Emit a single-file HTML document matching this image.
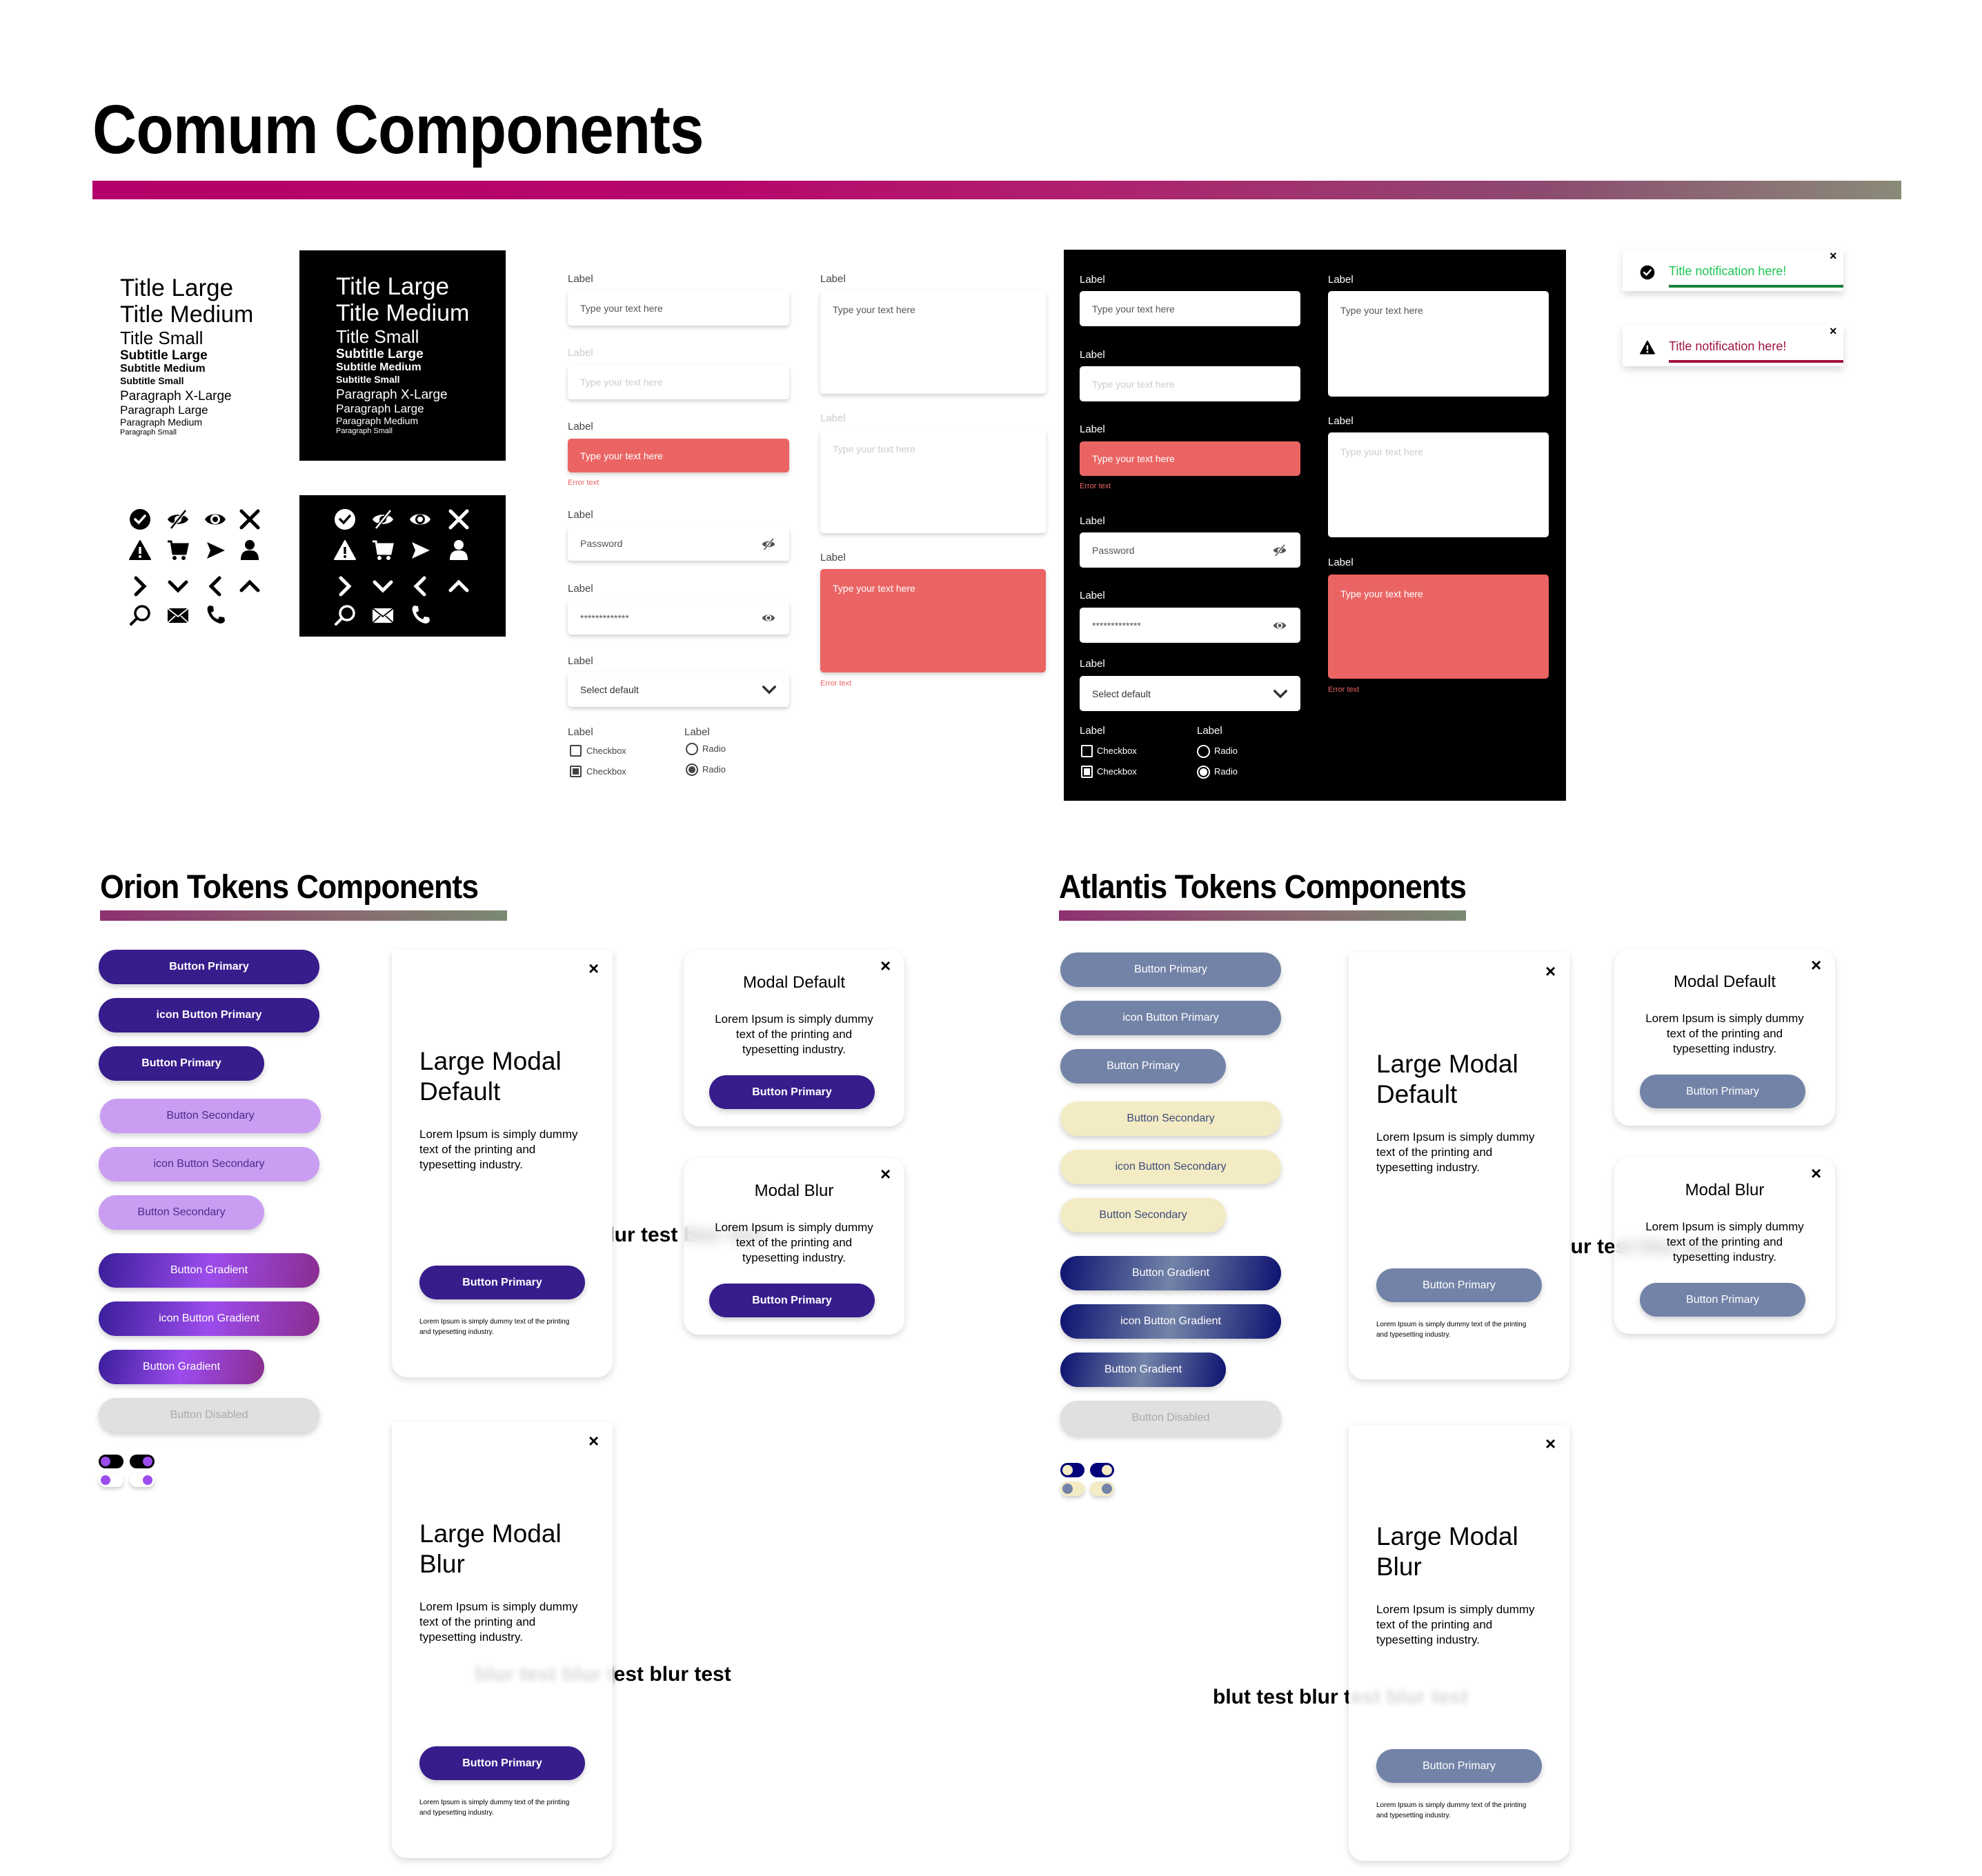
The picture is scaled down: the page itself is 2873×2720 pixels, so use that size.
<!DOCTYPE html>
<html><head><meta charset="utf-8">
<style>
*{margin:0;padding:0;box-sizing:border-box}
body{width:2873px;height:2720px;background:#fff;position:relative;overflow:hidden;font-family:"Liberation Sans",sans-serif;color:#000}
.a{position:absolute}
.t{position:absolute;white-space:nowrap;line-height:1}
.inp{position:absolute;background:#fff;border-radius:5px;box-shadow:0 3px 6px rgba(0,0,0,.18);font-size:14px;color:#555;padding-left:18px;display:flex;align-items:center}
.ta{align-items:flex-start;padding-top:20px}
.red{background:#eb6464;color:#fff}
.dis{color:#ccc}
.lab{position:absolute;font-size:15px;color:#444;white-space:nowrap}
.err{position:absolute;font-size:11px;color:#eb6464}
.btn{position:absolute;height:50px;border-radius:25px;display:flex;align-items:center;justify-content:center;font-size:16px;font-weight:bold;color:#fff;box-shadow:0 4px 8px rgba(0,0,0,.18)}
.modal{position:absolute;background:#fff;border-radius:22px;box-shadow:0 4px 10px rgba(0,0,0,.15)}
.x{position:absolute;font-size:26px;font-weight:bold;line-height:1}
svg.i{position:absolute;width:32px;height:32px}
</style></head><body>
<svg width="0" height="0" style="position:absolute">
<defs>
<symbol id="chk" viewBox="0 0 32 32"><circle cx="16" cy="16" r="15" fill="currentColor"/><path d="M9 16l5 5 9-10" stroke="var(--bg,#fff)" stroke-width="3.5" fill="none" stroke-linecap="round"/></symbol>
<symbol id="eyes" viewBox="0 0 32 32"><path d="M1 16C6 7 26 7 31 16 26 25 6 25 1 16z" fill="currentColor"/><circle cx="16" cy="16" r="5" fill="var(--bg,#fff)"/><path d="M6 29L27 3" stroke="var(--bg,#fff)" stroke-width="5"/><path d="M6 29L27 3" stroke="currentColor" stroke-width="2.5"/></symbol>
<symbol id="eye" viewBox="0 0 32 32"><path d="M1 16C6 6 26 6 31 16 26 26 6 26 1 16z" fill="currentColor"/><circle cx="16" cy="16" r="7" fill="var(--bg,#fff)"/><circle cx="16" cy="16" r="4" fill="currentColor"/></symbol>
<symbol id="xx" viewBox="0 0 32 32"><path d="M4 4L28 28M28 4L4 28" stroke="currentColor" stroke-width="5" stroke-linecap="round"/></symbol>
<symbol id="warn" viewBox="0 0 32 32"><path d="M16 2L31 29H1z" fill="currentColor" stroke="currentColor" stroke-width="2" stroke-linejoin="round"/><rect x="14.3" y="11" width="3.4" height="10" fill="var(--bg,#fff)"/><circle cx="16" cy="25" r="2" fill="var(--bg,#fff)"/></symbol>
<symbol id="cart" viewBox="0 0 32 32"><path d="M1 3h5l3 18h18l3-14H8" fill="none" stroke="currentColor" stroke-width="3"/><path d="M8 7h22l-3 14H10z" fill="currentColor"/><circle cx="11" cy="27" r="3" fill="currentColor"/><circle cx="24" cy="27" r="3" fill="currentColor"/></symbol>
<symbol id="send" viewBox="0 0 32 32"><path d="M4 4L30 16 4 28 9 16z" fill="currentColor"/></symbol>
<symbol id="user" viewBox="0 0 32 32"><circle cx="16" cy="8" r="7" fill="currentColor"/><path d="M3 30c0-10 4-14 13-14s13 4 13 14z" fill="currentColor"/></symbol>
<symbol id="cr" viewBox="0 0 32 32"><path d="M10 4l12 12-12 12" stroke="currentColor" stroke-width="5" fill="none" stroke-linecap="round"/></symbol>
<symbol id="cd" viewBox="0 0 32 32"><path d="M4 10l12 12 12-12" stroke="currentColor" stroke-width="5" fill="none" stroke-linecap="round"/></symbol>
<symbol id="cl" viewBox="0 0 32 32"><path d="M22 4L10 16l12 12" stroke="currentColor" stroke-width="5" fill="none" stroke-linecap="round"/></symbol>
<symbol id="cu" viewBox="0 0 32 32"><path d="M4 22L16 10l12 12" stroke="currentColor" stroke-width="5" fill="none" stroke-linecap="round"/></symbol>
<symbol id="srch" viewBox="0 0 32 32"><circle cx="19" cy="13" r="10" fill="none" stroke="currentColor" stroke-width="3.5"/><path d="M12 20L3 29" stroke="currentColor" stroke-width="4" stroke-linecap="round"/></symbol>
<symbol id="mail" viewBox="0 0 32 32"><rect x="1" y="6" width="30" height="21" fill="currentColor"/><path d="M1 6l15 12 15-12M1 27l11-10M31 27L20 17" stroke="var(--bg,#fff)" stroke-width="1.8" fill="none"/></symbol>
<symbol id="tel" viewBox="0 0 32 32"><path d="M8 2l5 1 1 7-4 2c2 5 5 8 10 10l2-4 7 1 1 5c-2 4-6 5-10 3C12 24 7 18 5 10 4 6 5 3 8 2z" fill="currentColor"/></symbol>
</defs></svg>

<!-- header -->
<div class="t" style="left:134px;top:138px;font-size:100px;font-weight:bold;letter-spacing:-1px;transform:scaleX(0.89);transform-origin:left">Comum Components</div>
<div class="a" style="left:134px;top:262px;width:2622px;height:27px;background:linear-gradient(90deg,#b4006a,#b6086c 35%,#b0206e 55%,#8c4a70 80%,#8a8a78)"></div>

<!-- typography light -->
<div class="a" style="left:174px;top:400px;line-height:1">
<div class="t" style="position:relative;font-size:35px">Title Large</div>
<div class="t" style="position:relative;font-size:34px;margin-top:4px">Title Medium</div>
<div class="t" style="position:relative;font-size:26px;margin-top:4px">Title Small</div>
<div class="t" style="position:relative;font-size:19px;font-weight:bold;margin-top:3px">Subtitle Large</div>
<div class="t" style="position:relative;font-size:16px;font-weight:bold;margin-top:2px">Subtitle Medium</div>
<div class="t" style="position:relative;font-size:14px;font-weight:bold;margin-top:2px">Subtitle Small</div>
<div class="t" style="position:relative;font-size:19px;margin-top:6px">Paragraph X-Large</div>
<div class="t" style="position:relative;font-size:17px;margin-top:2px">Paragraph Large</div>
<div class="t" style="position:relative;font-size:14px;margin-top:2px">Paragraph Medium</div>
<div class="t" style="position:relative;font-size:11px;margin-top:3px">Paragraph Small</div>
</div>
<div class="a" style="left:434px;top:363px;width:299px;height:305px;background:#000"></div>
<div class="a" style="left:487px;top:398px;line-height:1;color:#fff">
<div class="t" style="position:relative;font-size:35px">Title Large</div>
<div class="t" style="position:relative;font-size:34px;margin-top:4px">Title Medium</div>
<div class="t" style="position:relative;font-size:26px;margin-top:4px">Title Small</div>
<div class="t" style="position:relative;font-size:19px;font-weight:bold;margin-top:3px">Subtitle Large</div>
<div class="t" style="position:relative;font-size:16px;font-weight:bold;margin-top:2px">Subtitle Medium</div>
<div class="t" style="position:relative;font-size:14px;font-weight:bold;margin-top:2px">Subtitle Small</div>
<div class="t" style="position:relative;font-size:19px;margin-top:6px">Paragraph X-Large</div>
<div class="t" style="position:relative;font-size:17px;margin-top:2px">Paragraph Large</div>
<div class="t" style="position:relative;font-size:14px;margin-top:2px">Paragraph Medium</div>
<div class="t" style="position:relative;font-size:11px;margin-top:3px">Paragraph Small</div>
</div>

<!-- icons light -->
<svg class="i" style="left:187px;top:737px"><use href="#chk"/></svg>
<svg class="i" style="left:242px;top:737px"><use href="#eyes"/></svg>
<svg class="i" style="left:296px;top:737px"><use href="#eye"/></svg>
<svg class="i" style="left:346px;top:737px"><use href="#xx"/></svg>
<svg class="i" style="left:187px;top:782px"><use href="#warn"/></svg>
<svg class="i" style="left:242px;top:782px"><use href="#cart"/></svg>
<svg class="i" style="left:296px;top:782px"><use href="#send"/></svg>
<svg class="i" style="left:346px;top:782px"><use href="#user"/></svg>
<svg class="i" style="left:187px;top:834px"><use href="#cr"/></svg>
<svg class="i" style="left:242px;top:834px"><use href="#cd"/></svg>
<svg class="i" style="left:296px;top:834px"><use href="#cl"/></svg>
<svg class="i" style="left:346px;top:834px"><use href="#cu"/></svg>
<svg class="i" style="left:187px;top:876px"><use href="#srch"/></svg>
<svg class="i" style="left:242px;top:876px"><use href="#mail"/></svg>
<svg class="i" style="left:296px;top:876px"><use href="#tel"/></svg>
<!-- icons dark -->
<div class="a" style="left:434px;top:718px;width:299px;height:205px;background:#000;color:#fff;--bg:#000">
<svg class="i" style="left:50px;top:19px"><use href="#chk"/></svg>
<svg class="i" style="left:105px;top:19px"><use href="#eyes"/></svg>
<svg class="i" style="left:159px;top:19px"><use href="#eye"/></svg>
<svg class="i" style="left:215px;top:19px"><use href="#xx"/></svg>
<svg class="i" style="left:50px;top:64px"><use href="#warn"/></svg>
<svg class="i" style="left:105px;top:64px"><use href="#cart"/></svg>
<svg class="i" style="left:159px;top:64px"><use href="#send"/></svg>
<svg class="i" style="left:215px;top:64px"><use href="#user"/></svg>
<svg class="i" style="left:50px;top:116px"><use href="#cr"/></svg>
<svg class="i" style="left:105px;top:116px"><use href="#cd"/></svg>
<svg class="i" style="left:159px;top:116px"><use href="#cl"/></svg>
<svg class="i" style="left:215px;top:116px"><use href="#cu"/></svg>
<svg class="i" style="left:50px;top:158px"><use href="#srch"/></svg>
<svg class="i" style="left:105px;top:158px"><use href="#mail"/></svg>
<svg class="i" style="left:159px;top:158px"><use href="#tel"/></svg>
</div>

<!-- forms light col1 -->
<div class="lab" style="left:823px;top:396px">Label</div>
<div class="inp" style="left:823px;top:421px;width:321px;height:51px">Type your text here</div>
<div class="lab" style="left:823px;top:503px;color:#ccc">Label</div>
<div class="inp dis" style="left:823px;top:529px;width:321px;height:50px">Type your text here</div>
<div class="lab" style="left:823px;top:610px">Label</div>
<div class="inp red" style="left:823px;top:636px;width:321px;height:49px">Type your text here</div>
<div class="err" style="left:823px;top:694px">Error text</div>
<div class="lab" style="left:823px;top:738px">Label</div>
<div class="inp" style="left:823px;top:763px;width:321px;height:50px">Password<svg style="position:absolute;right:20px;top:16px;width:20px;height:20px"><use href="#eyes"/></svg></div>
<div class="lab" style="left:823px;top:845px">Label</div>
<div class="inp" style="left:823px;top:871px;width:321px;height:49px">*************<svg style="position:absolute;right:20px;top:15px;width:20px;height:20px"><use href="#eye"/></svg></div>
<div class="lab" style="left:823px;top:950px">Label</div>
<div class="inp" style="left:823px;top:975px;width:321px;height:50px;color:#333">Select default<svg style="position:absolute;right:18px;top:14px;width:22px;height:22px"><use href="#cd"/></svg></div>
<div class="lab" style="left:823px;top:1053px">Label</div>
<div class="lab" style="left:992px;top:1053px">Label</div>
<div class="a" style="left:826px;top:1080px;width:17px;height:17px;border:2px solid #444;border-radius:2px"></div>
<div class="lab" style="left:850px;top:1081px;font-size:13px">Checkbox</div>
<div class="a" style="left:826px;top:1110px;width:17px;height:17px;border:2px solid #444;border-radius:2px;padding:2px"><div style="width:9px;height:9px;background:#444"></div></div>
<div class="lab" style="left:850px;top:1111px;font-size:13px">Checkbox</div>
<div class="a" style="left:994px;top:1077px;width:18px;height:18px;border:2px solid #444;border-radius:50%"></div>
<div class="lab" style="left:1018px;top:1078px;font-size:13px">Radio</div>
<div class="a" style="left:994px;top:1107px;width:18px;height:18px;border:2px solid #444;border-radius:50%;padding:2px"><div style="width:10px;height:10px;background:#444;border-radius:50%"></div></div>
<div class="lab" style="left:1018px;top:1108px;font-size:13px">Radio</div>
<!-- textareas light -->
<div class="lab" style="left:1189px;top:396px">Label</div>
<div class="inp ta" style="left:1189px;top:421px;width:327px;height:150px">Type your text here</div>
<div class="lab" style="left:1189px;top:598px;color:#ccc">Label</div>
<div class="inp ta dis" style="left:1189px;top:623px;width:327px;height:150px">Type your text here</div>
<div class="lab" style="left:1189px;top:800px">Label</div>
<div class="inp ta red" style="left:1189px;top:825px;width:327px;height:150px">Type your text here</div>
<div class="err" style="left:1189px;top:985px">Error text</div>

<!-- dark forms -->
<div class="a" style="left:1542px;top:362px;width:728px;height:799px;background:#000"></div>
<div class="lab" style="left:1565px;top:397px;color:#fff">Label</div>
<div class="inp" style="left:1565px;top:422px;width:320px;height:51px">Type your text here</div>
<div class="lab" style="left:1565px;top:506px;color:#fff">Label</div>
<div class="inp dis" style="left:1565px;top:531px;width:320px;height:51px">Type your text here</div>
<div class="lab" style="left:1565px;top:614px;color:#fff">Label</div>
<div class="inp red" style="left:1565px;top:640px;width:320px;height:50px">Type your text here</div>
<div class="err" style="left:1565px;top:699px">Error text</div>
<div class="lab" style="left:1565px;top:747px;color:#fff">Label</div>
<div class="inp" style="left:1565px;top:772px;width:320px;height:51px">Password<svg style="position:absolute;right:20px;top:16px;width:20px;height:20px"><use href="#eyes"/></svg></div>
<div class="lab" style="left:1565px;top:855px;color:#fff">Label</div>
<div class="inp" style="left:1565px;top:881px;width:320px;height:51px">*************<svg style="position:absolute;right:20px;top:16px;width:20px;height:20px"><use href="#eye"/></svg></div>
<div class="lab" style="left:1565px;top:954px;color:#fff">Label</div>
<div class="inp" style="left:1565px;top:980px;width:320px;height:51px;color:#333">Select default<svg style="position:absolute;right:18px;top:15px;width:22px;height:22px"><use href="#cd"/></svg></div>
<div class="lab" style="left:1565px;top:1051px;color:#fff">Label</div>
<div class="lab" style="left:1735px;top:1051px;color:#fff">Label</div>
<div class="a" style="left:1567px;top:1080px;width:17px;height:18px;border:2px solid #fff;border-radius:2px"></div>
<div class="lab" style="left:1590px;top:1081px;font-size:13px;color:#fff">Checkbox</div>
<div class="a" style="left:1567px;top:1110px;width:17px;height:18px;border:2px solid #fff;border-radius:2px;padding:2px"><div style="width:9px;height:10px;background:#fff"></div></div>
<div class="lab" style="left:1590px;top:1111px;font-size:13px;color:#fff">Checkbox</div>
<div class="a" style="left:1735px;top:1080px;width:19px;height:19px;border:2px solid #fff;border-radius:50%"></div>
<div class="lab" style="left:1760px;top:1081px;font-size:13px;color:#fff">Radio</div>
<div class="a" style="left:1735px;top:1110px;width:19px;height:19px;border:2px solid #fff;border-radius:50%;padding:2px"><div style="width:11px;height:11px;background:#fff;border-radius:50%"></div></div>
<div class="lab" style="left:1760px;top:1111px;font-size:13px;color:#fff">Radio</div>
<div class="lab" style="left:1925px;top:397px;color:#fff">Label</div>
<div class="inp ta" style="left:1925px;top:422px;width:320px;height:153px">Type your text here</div>
<div class="lab" style="left:1925px;top:602px;color:#fff">Label</div>
<div class="inp ta dis" style="left:1925px;top:627px;width:320px;height:152px">Type your text here</div>
<div class="lab" style="left:1925px;top:807px;color:#fff">Label</div>
<div class="inp ta red" style="left:1925px;top:833px;width:320px;height:151px">Type your text here</div>
<div class="err" style="left:1925px;top:994px">Error text</div>

<!-- notifications -->
<div class="a" style="left:2352px;top:362px;width:320px;height:60px;background:#fff;box-shadow:0 5px 10px rgba(0,0,0,.15)"></div>
<svg class="a" style="left:2377px;top:384px;width:22px;height:22px"><use href="#chk"/></svg>
<div class="t" style="left:2419px;top:384px;font-size:18px;color:#1dc454">Title notification here!</div>
<div class="a" style="left:2419px;top:413px;width:253px;height:4px;background:#17803a"></div>
<div class="x" style="left:2652px;top:362px;font-size:18px">×</div>
<div class="a" style="left:2352px;top:471px;width:320px;height:60px;background:#fff;box-shadow:0 5px 10px rgba(0,0,0,.15)"></div>
<svg class="a" style="left:2377px;top:493px;width:22px;height:22px"><use href="#warn"/></svg>
<div class="t" style="left:2419px;top:493px;font-size:18px;color:#a0153e">Title notification here!</div>
<div class="a" style="left:2419px;top:522px;width:253px;height:4px;background:#a0153e"></div>
<div class="x" style="left:2652px;top:471px;font-size:18px">×</div>

<!-- ORION -->
<div class="t" style="left:145px;top:1263px;font-size:48px;font-weight:bold;letter-spacing:-1px;transform:scaleX(0.93);transform-origin:left">Orion Tokens Components</div>
<div class="a" style="left:145px;top:1320px;width:590px;height:15px;background:linear-gradient(90deg,#8e3070,#8a6a70 60%,#7a8a72)"></div>
<div class="btn" style="left:143px;top:1377px;width:320px;background:#371c8c">Button Primary</div>
<div class="btn" style="left:143px;top:1447px;width:320px;background:#371c8c">icon Button Primary</div>
<div class="btn" style="left:143px;top:1517px;width:240px;background:#371c8c">Button Primary</div>
<div class="btn" style="left:145px;top:1593px;width:320px;background:#c99ef2;color:#4a2a8c;font-weight:normal">Button Secondary</div>
<div class="btn" style="left:143px;top:1663px;width:320px;background:#c99ef2;color:#4a2a8c;font-weight:normal">icon Button Secondary</div>
<div class="btn" style="left:143px;top:1733px;width:240px;background:#c99ef2;color:#4a2a8c;font-weight:normal">Button Secondary</div>
<div class="btn" style="left:143px;top:1817px;width:320px;background:linear-gradient(100deg,#3a1e9a,#9c4ced 50%,#8a2d8f);font-weight:normal">Button Gradient</div>
<div class="btn" style="left:143px;top:1887px;width:320px;background:linear-gradient(100deg,#3a1e9a,#9c4ced 50%,#8a2d8f);font-weight:normal">icon Button Gradient</div>
<div class="btn" style="left:143px;top:1957px;width:240px;background:linear-gradient(100deg,#3a1e9a,#9c4ced 50%,#8a2d8f);font-weight:normal">Button Gradient</div>
<div class="btn" style="left:143px;top:2027px;width:320px;background:#e0e0e0;color:#aaa;font-weight:normal">Button Disabled</div>
<div class="a" style="left:143px;top:2109px;width:36px;height:20px;border-radius:10px;background:#000"><div class="a" style="left:3px;top:3px;width:14px;height:14px;border-radius:50%;background:#9c4ced"></div></div>
<div class="a" style="left:188px;top:2109px;width:36px;height:20px;border-radius:10px;background:#000"><div class="a" style="left:19px;top:3px;width:14px;height:14px;border-radius:50%;background:#9c4ced"></div></div>
<div class="a" style="left:143px;top:2136px;width:36px;height:20px;border-radius:10px;background:#fff;box-shadow:0 3px 6px rgba(0,0,0,.2)"><div class="a" style="left:3px;top:3px;width:14px;height:14px;border-radius:50%;background:#9c4ced"></div></div>
<div class="a" style="left:188px;top:2136px;width:36px;height:20px;border-radius:10px;background:#fff;box-shadow:0 3px 6px rgba(0,0,0,.2)"><div class="a" style="left:19px;top:3px;width:14px;height:14px;border-radius:50%;background:#9c4ced"></div></div>

<!-- orion blur texts (behind) -->
<div class="t" style="left:864px;top:1776px;font-size:30px;font-weight:bold">blur test blur test</div>
<div class="t" style="left:688px;top:2413px;font-size:30px;font-weight:bold"><span style="filter:blur(4px);display:inline-block">blur test blur t</span>est blur test</div>

<!-- orion large modal default -->
<div class="modal" style="left:568px;top:1377px;width:320px;height:620px;border-radius:0 0 22px 22px">
<div class="x" style="left:285px;top:14px">×</div>
<div class="t" style="left:40px;top:140px;font-size:37px;line-height:44px;white-space:normal;width:260px">Large Modal Default</div>
<div class="t" style="left:40px;top:257px;font-size:17px;line-height:22px;white-space:normal;width:250px">Lorem Ipsum is simply dummy text of the printing and typesetting industry.</div>
<div class="btn" style="left:40px;top:458px;width:240px;height:49px;background:#371c8c">Button Primary</div>
<div class="t" style="left:40px;top:532px;font-size:10px;line-height:15px;white-space:normal;width:230px">Lorem Ipsum is simply dummy text of the printing and typesetting industry.</div>
</div>
<!-- orion modal default -->
<div class="modal" style="left:991px;top:1377px;width:320px;height:256px">
<div class="x" style="left:285px;top:10px">×</div>
<div class="t" style="left:0;width:320px;text-align:center;top:36px;font-size:24px">Modal Default</div>
<div class="t" style="left:0;width:320px;text-align:center;top:90px;font-size:17px;line-height:22px;white-space:normal;padding:0 35px">Lorem Ipsum is simply dummy text of the printing and typesetting industry.</div>
<div class="btn" style="left:37px;top:182px;width:240px;height:49px;background:#371c8c">Button Primary</div>
</div>
<div class="modal" style="left:991px;top:1679px;width:320px;height:256px;background:rgba(255,255,255,.75);backdrop-filter:blur(8px);-webkit-backdrop-filter:blur(8px)">
<div class="x" style="left:285px;top:10px">×</div>
<div class="t" style="left:0;width:320px;text-align:center;top:36px;font-size:24px">Modal Blur</div>
<div class="t" style="left:0;width:320px;text-align:center;top:90px;font-size:17px;line-height:22px;white-space:normal;padding:0 35px">Lorem Ipsum is simply dummy text of the printing and typesetting industry.</div>
<div class="btn" style="left:37px;top:182px;width:240px;height:49px;background:#371c8c">Button Primary</div>
</div>
<!-- orion large modal blur -->
<div class="modal" style="left:568px;top:2062px;width:320px;height:632px;border-radius:0 0 22px 22px;background:rgba(255,255,255,.85)">
<div class="x" style="left:285px;top:14px">×</div>
<div class="t" style="left:40px;top:140px;font-size:37px;line-height:44px;white-space:normal;width:260px">Large Modal Blur</div>
<div class="t" style="left:40px;top:257px;font-size:17px;line-height:22px;white-space:normal;width:250px">Lorem Ipsum is simply dummy text of the printing and typesetting industry.</div>
<div class="btn" style="left:40px;top:470px;width:240px;height:49px;background:#371c8c">Button Primary</div>
<div class="t" style="left:40px;top:544px;font-size:10px;line-height:15px;white-space:normal;width:230px">Lorem Ipsum is simply dummy text of the printing and typesetting industry.</div>
</div>

<!-- ATLANTIS -->
<div class="t" style="left:1535px;top:1263px;font-size:48px;font-weight:bold;letter-spacing:-1px;transform:scaleX(0.93);transform-origin:left">Atlantis Tokens Components</div>
<div class="a" style="left:1535px;top:1320px;width:590px;height:15px;background:linear-gradient(90deg,#8e3070,#8a6a70 60%,#7a8a72)"></div>
<div class="btn" style="left:1537px;top:1381px;width:320px;background:#7383a8;font-weight:normal">Button Primary</div>
<div class="btn" style="left:1537px;top:1451px;width:320px;background:#7383a8;font-weight:normal">icon Button Primary</div>
<div class="btn" style="left:1537px;top:1521px;width:240px;background:#7383a8;font-weight:normal">Button Primary</div>
<div class="btn" style="left:1537px;top:1597px;width:320px;background:#f3ebc4;color:#3a4a7a;font-weight:normal">Button Secondary</div>
<div class="btn" style="left:1537px;top:1667px;width:320px;background:#f3ebc4;color:#3a4a7a;font-weight:normal">icon Button Secondary</div>
<div class="btn" style="left:1537px;top:1737px;width:240px;background:#f3ebc4;color:#3a4a7a;font-weight:normal">Button Secondary</div>
<div class="btn" style="left:1537px;top:1821px;width:320px;background:linear-gradient(100deg,#0d1270,#7383a8 50%,#0d1270);font-weight:normal">Button Gradient</div>
<div class="btn" style="left:1537px;top:1891px;width:320px;background:linear-gradient(100deg,#0d1270,#7383a8 50%,#0d1270);font-weight:normal">icon Button Gradient</div>
<div class="btn" style="left:1537px;top:1961px;width:240px;background:linear-gradient(100deg,#0d1270,#7383a8 50%,#0d1270);font-weight:normal">Button Gradient</div>
<div class="btn" style="left:1537px;top:2031px;width:320px;background:#e0e0e0;color:#aaa;font-weight:normal">Button Disabled</div>
<div class="a" style="left:1537px;top:2121px;width:35px;height:21px;border-radius:11px;background:#02037a"><div class="a" style="left:3px;top:3px;width:15px;height:15px;border-radius:50%;background:#f3ebc4"></div></div>
<div class="a" style="left:1580px;top:2121px;width:35px;height:21px;border-radius:11px;background:#02037a"><div class="a" style="left:17px;top:3px;width:15px;height:15px;border-radius:50%;background:#f3ebc4"></div></div>
<div class="a" style="left:1537px;top:2148px;width:35px;height:21px;border-radius:11px;background:#f3ebc4;box-shadow:0 3px 6px rgba(0,0,0,.2)"><div class="a" style="left:3px;top:3px;width:15px;height:15px;border-radius:50%;background:#7383a8"></div></div>
<div class="a" style="left:1580px;top:2148px;width:35px;height:21px;border-radius:11px;background:#f3ebc4;box-shadow:0 3px 6px rgba(0,0,0,.2)"><div class="a" style="left:17px;top:3px;width:15px;height:15px;border-radius:50%;background:#7383a8"></div></div>

<div class="t" style="left:2250px;top:1793px;font-size:30px;font-weight:bold">blur test blur test</div>
<div class="t" style="left:1758px;top:2446px;font-size:30px;font-weight:bold">blut test blur t<span style="filter:blur(4px);display:inline-block">est blur test</span></div>

<div class="modal" style="left:1955px;top:1381px;width:320px;height:619px;border-radius:0 0 22px 22px">
<div class="x" style="left:285px;top:14px">×</div>
<div class="t" style="left:40px;top:140px;font-size:37px;line-height:44px;white-space:normal;width:260px">Large Modal Default</div>
<div class="t" style="left:40px;top:257px;font-size:17px;line-height:22px;white-space:normal;width:250px">Lorem Ipsum is simply dummy text of the printing and typesetting industry.</div>
<div class="btn" style="left:40px;top:458px;width:240px;height:49px;background:#7383a8;font-weight:normal">Button Primary</div>
<div class="t" style="left:40px;top:532px;font-size:10px;line-height:15px;white-space:normal;width:230px">Lorem Ipsum is simply dummy text of the printing and typesetting industry.</div>
</div>
<div class="modal" style="left:2340px;top:1376px;width:320px;height:256px">
<div class="x" style="left:285px;top:10px">×</div>
<div class="t" style="left:0;width:320px;text-align:center;top:36px;font-size:24px">Modal Default</div>
<div class="t" style="left:0;width:320px;text-align:center;top:90px;font-size:17px;line-height:22px;white-space:normal;padding:0 35px">Lorem Ipsum is simply dummy text of the printing and typesetting industry.</div>
<div class="btn" style="left:37px;top:182px;width:240px;height:49px;background:#7383a8;font-weight:normal">Button Primary</div>
</div>
<div class="modal" style="left:2340px;top:1678px;width:320px;height:256px;background:rgba(255,255,255,.75);backdrop-filter:blur(8px);-webkit-backdrop-filter:blur(8px)">
<div class="x" style="left:285px;top:10px">×</div>
<div class="t" style="left:0;width:320px;text-align:center;top:36px;font-size:24px">Modal Blur</div>
<div class="t" style="left:0;width:320px;text-align:center;top:90px;font-size:17px;line-height:22px;white-space:normal;padding:0 35px">Lorem Ipsum is simply dummy text of the printing and typesetting industry.</div>
<div class="btn" style="left:37px;top:182px;width:240px;height:49px;background:#7383a8;font-weight:normal">Button Primary</div>
</div>
<div class="modal" style="left:1955px;top:2066px;width:320px;height:632px;border-radius:0 0 22px 22px;background:rgba(255,255,255,.85)">
<div class="x" style="left:285px;top:14px">×</div>
<div class="t" style="left:40px;top:140px;font-size:37px;line-height:44px;white-space:normal;width:260px">Large Modal Blur</div>
<div class="t" style="left:40px;top:257px;font-size:17px;line-height:22px;white-space:normal;width:250px">Lorem Ipsum is simply dummy text of the printing and typesetting industry.</div>
<div class="btn" style="left:40px;top:470px;width:240px;height:49px;background:#7383a8;font-weight:normal">Button Primary</div>
<div class="t" style="left:40px;top:544px;font-size:10px;line-height:15px;white-space:normal;width:230px">Lorem Ipsum is simply dummy text of the printing and typesetting industry.</div>
</div>
</body></html>
